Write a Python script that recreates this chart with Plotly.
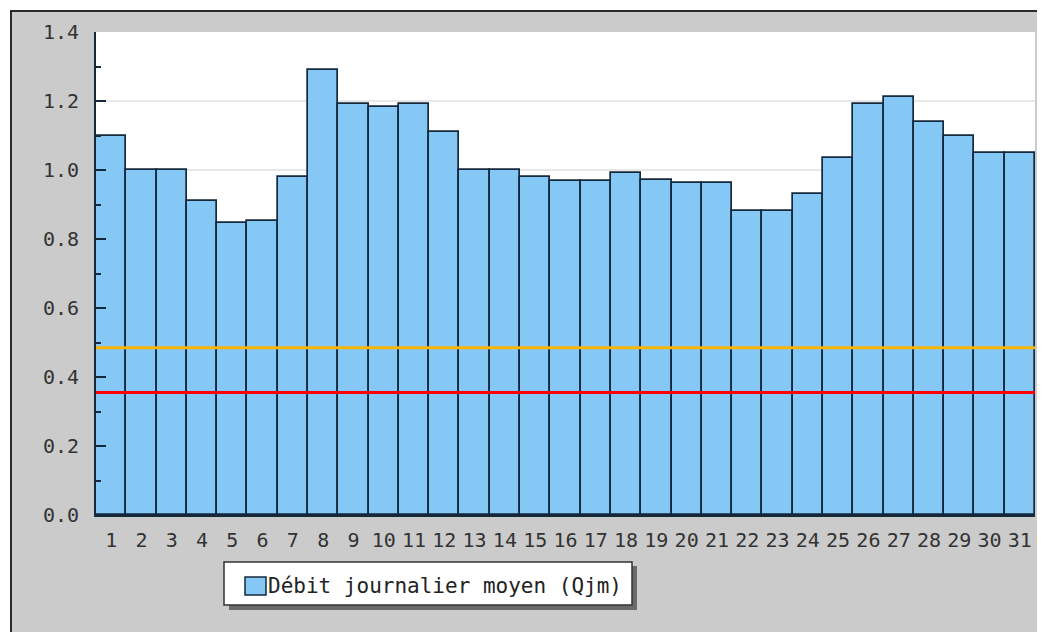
import plotly.graph_objects as go

days = list(range(1, 32))
day_labels = [str(d) for d in days]
qjm = [1.10, 1.00, 1.00, 0.91, 0.845, 0.853, 0.98, 1.29, 1.19, 1.183, 1.19, 1.11,
       1.00, 1.00, 0.98, 0.968, 0.968, 0.99, 0.97, 0.963, 0.963, 0.88, 0.88, 0.93,
       1.034, 1.19, 1.213, 1.14, 1.10, 1.048, 1.048]
orange_level = [0.485, 0.485]
red_level = [0.355, 0.355]
line_x = [0.5, 31.5]
legend_label = "Débit journalier moyen (Qjm)"

OFF = 8  # page body margin of the browser
W, H = 1045 - OFF, 632 - OFF
# plot area in reference-screen pixels
RL, RR, RT, RB = 96, 1035, 32, 515
L, R, T, B = RL - OFF, RR - OFF, RT - OFF, RB - OFF


def px(x):
    return (x - RL) / (RR - RL)


def py(y):
    return (RB - y) / (RB - RT)


BAR = "#85C8F6"
EDGE = "#15293d"
FONT = "DejaVu Sans Mono"

fig = go.Figure()
fig.add_trace(go.Bar(x=days, y=qjm, marker=dict(color=BAR, line=dict(color=EDGE, width=1.7)),
                     showlegend=False, hoverinfo="x+y"))
fig.add_trace(go.Scatter(x=line_x, y=orange_level, mode="lines",
                         line=dict(color="#F7B500", width=3), showlegend=False))
fig.add_trace(go.Scatter(x=line_x, y=red_level, mode="lines",
                         line=dict(color="#FF0000", width=3), showlegend=False))

shapes = [
    # outer gray frame
    dict(type="rect", xref="paper", yref="paper", x0=px(11), x1=px(1060), y0=py(11), y1=py(650),
         fillcolor="#cbcbcb", line=dict(color="#2a2a2a", width=2), layer="below"),
    # white plot area
    dict(type="rect", xref="paper", yref="paper", x0=0, x1=1, y0=0, y1=1,
         fillcolor="#ffffff", line=dict(width=0), layer="below"),
    # blue strip at left edge
    dict(type="rect", xref="paper", yref="paper", x0=px(-2), x1=px(3.5), y0=py(555), y1=py(650),
         fillcolor="#6f9fe0", line=dict(width=0), layer="below"),
    # legend shadow
    dict(type="rect", xref="paper", yref="paper", x0=px(229), x1=px(637), y0=py(566), y1=py(610),
         fillcolor="#6a6a6a", line=dict(width=0), layer="below"),
    # legend box
    dict(type="rect", xref="paper", yref="paper", x0=px(224), x1=px(632), y0=py(562), y1=py(605),
         fillcolor="#ffffff", line=dict(color="#333333", width=1.5), layer="below"),
    # legend swatch
    dict(type="rect", xref="paper", yref="paper", x0=px(245), x1=px(266), y0=py(577), y1=py(595),
         fillcolor=BAR, line=dict(color=EDGE, width=1.5), layer="below"),
]

fig.update_layout(
    width=W, height=H,
    margin=dict(l=L, r=W - R, t=T, b=H - B, pad=0),
    template="none",
    paper_bgcolor="#ffffff",
    plot_bgcolor="#ffffff",
    bargap=0,
    font=dict(family=FONT, size=20, color="#333333"),
    shapes=shapes,
    annotations=[dict(xref="paper", yref="paper", x=px(266), y=py(586), xanchor="left", yanchor="middle",
                      text=legend_label, showarrow=False,
                      font=dict(family=FONT, size=21, color="#222222"))],
    xaxis=dict(range=[0.5, 31.5], tickmode="array", tickvals=days, ticktext=day_labels,
               ticks="", showgrid=False, zeroline=False, showline=True, linecolor=EDGE, linewidth=2,
               ticklabelstandoff=6, automargin=False),
    yaxis=dict(range=[0, 1.4], tick0=0, dtick=0.2, tickformat=".1f", ticks="inside", ticklen=10,
               tickwidth=2, tickcolor=EDGE, showline=True, linecolor=EDGE, linewidth=2,
               showgrid=True, gridcolor="#e8e8e8", gridwidth=1.5, zeroline=False,
               minor=dict(ticks="inside", ticklen=5, dtick=0.1, tickwidth=2, tickcolor=EDGE, showgrid=False),
               ticklabelstandoff=11, automargin=False),
)

fig.write_html("out.html")
